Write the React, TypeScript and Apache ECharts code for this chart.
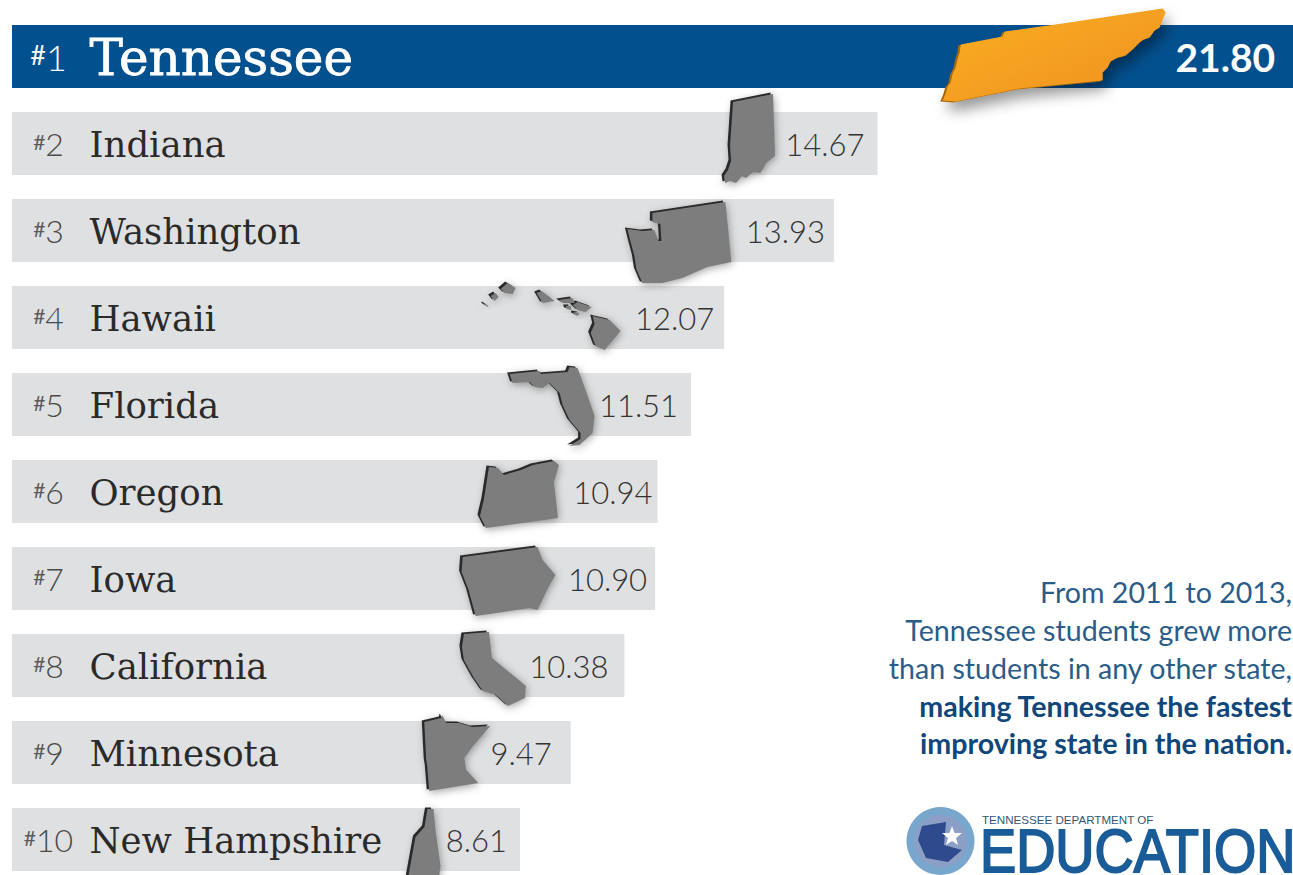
import React, { useEffect, useRef } from "react";
import * as echarts from "echarts";

const ranks = ["#1", "#2", "#3", "#4", "#5", "#6", "#7", "#8", "#9", "#10"];
const states = ["Tennessee", "Indiana", "Washington", "Hawaii", "Florida", "Oregon", "Iowa", "California", "Minnesota", "New Hampshire"];
const scores = [21.8, 14.67, 13.93, 12.07, 11.51, 10.94, 10.9, 10.38, 9.47, 8.61];

// State silhouettes: pixel offsets from the end of each bar, at the bar's mid-height.
const outlineTN = [[[-358,45],[-355,38],[-353,31],[-350,27],[-348,18],[-345,12],[-343,3],[-341,-3],[-340,-11],[-298,-19],[-296,-24],[-238,-32],[-138,-47],[-135,-43],[-138,-36],[-141,-28],[-146,-25],[-151,-18],[-157,-16],[-161,-13],[-168,-6],[-175,0],[-183,2],[-190,6],[-193,12],[-198,17],[-198,25],[-281,33],[-345,46]]];
const outlineIN = [[[-147,-43],[-107,-51],[-105,11],[-114,18],[-117,24],[-120,28],[-127,27],[-134,33],[-138,31],[-144,38],[-150,36],[-155,38],[-156,31],[-152,25],[-149,16],[-150,1]]];
const outlineWA = [[[-184,-19],[-111,-30],[-105,30],[-129,35],[-154,46],[-174,51],[-194,51],[-197,44],[-200,37],[-202,24],[-206,9],[-209,-3],[-194,-1],[-182,-2],[-178,9],[-175,9],[-176,-8],[-184,-10]]];
const outlineHI = [
  [[-134,-3],[-117,1],[-106,12],[-122,31],[-131,27],[-136,14],[-132,5]],
  [[-149,-17],[-135,-12],[-141,-7],[-149,-9],[-154,-14]],
  [[-168,-19],[-154,-21],[-152,-16],[-164,-16]],
  [[-161,-13],[-156,-13],[-155,-9],[-160,-10]],
  [[-153,-7],[-147,-6],[-149,-3],[-153,-5]],
  [[-190,-26],[-185,-28],[-172,-18],[-184,-16]],
  [[-226,-30],[-219,-36],[-211,-31],[-214,-25],[-222,-26]],
  [[-236,-23],[-231,-26],[-228,-22],[-232,-18]],
  [[-242,-16],[-238,-13],[-239,-12],[-243,-15]],
];
const outlineFL = [[[-184,-32],[-154,-35],[-153,-32],[-126,-34],[-124,-39],[-116,-38],[-108,-16],[-99,10],[-101,27],[-114,39],[-124,40],[-113,33],[-113,27],[-124,14],[-131,-1],[-134,-13],[-144,-23],[-151,-18],[-159,-19],[-164,-24],[-181,-23]]];
const outlineOR = [[[-171,-26],[-162,-25],[-156,-18],[-139,-23],[-127,-28],[-106,-32],[-101,-28],[-106,-11],[-102,25],[-174,35],[-180,23],[-176,6]]];
const outlineIA = [[[-195,-23],[-120,-33],[-115,-20],[-102,-5],[-108,5],[-113,15],[-120,30],[-128,28],[-182,36],[-189,10],[-196,-8]]];
const outlineCA = [[[-163,-33],[-138,-35],[-135,-9],[-101,19],[-102,31],[-119,39],[-131,28],[-144,24],[-153,11],[-163,-7],[-165,-20]]];
const outlineMN = [[[-149,-32],[-132,-36],[-131,-39],[-127,-31],[-114,-31],[-101,-27],[-83,-28],[-101,-7],[-109,4],[-107,16],[-95,29],[-144,37],[-146,12],[-147,6]]];
const outlineNH = [[[-95,-32],[-89,-32],[-87,-11],[-82,25],[-84,40],[-115,40],[-107,-4],[-98,-14]]];
const outlines = [outlineTN, outlineIN, outlineWA, outlineHI, outlineFL, outlineOR, outlineIA, outlineCA, outlineMN, outlineNH];

// Distance of each score label from its bar's right end.
const labelInsets = [23, 13, 9, 10, 13, 5, 8, 16, 19, 13];

const noteRegular = ["From 2011 to 2013,", "Tennessee students grew more", "than students in any other state,"];
const noteBold = ["making Tennessee the fastest", "improving state in the nation."];
const logoSmall = "TENNESSEE DEPARTMENT OF";
const logoBig = "EDUCATION";
const starPoints = [[952,826],[954.5,833],[962,833],[956,838],[958,845],[952,841],[946,845],[948,838],[942,833],[949.5,833]];

const BLUE = "#03508f";
const GRAY = "#dfe0e1";
const SLAB = "'DejaVu Serif', serif";
const SANS = "Lato, 'Open Sans', sans-serif";

export default function App() {
  const ref = useRef<HTMLDivElement>(null);
  useEffect(() => {
    const chart = echarts.init(ref.current!, undefined, { renderer: "svg" });
    const renderItem = (_p: any, api: any) => {
      const i = api.value(1) as number;
      const end = api.coord([api.value(0), i]);
      const start = api.coord([0, i]);
      const first = i === 0;
      const children: any[] = [];
      const edge = first ? "#a8690f" : "#2b2b2b";
      const fill = first
        ? new echarts.graphic.LinearGradient(0, 0, 1, 1, [
            { offset: 0, color: "#fbb022" },
            { offset: 1, color: "#ee8f20" },
          ])
        : "#7d7d7d";
      outlines[i].forEach((pts: number[][]) => {
        const abs = pts.map((p) => [end[0] + p[0], end[1] + p[1]]);
        children.push({
          type: "polygon",
          shape: { points: abs },
          style: { fill: edge, shadowBlur: first ? 14 : 8, shadowColor: "rgba(0,0,0,0.4)", shadowOffsetX: first ? 6 : 3, shadowOffsetY: first ? 8 : 3 },
        });
        children.push({
          type: "polygon",
          shape: { points: abs.map((p) => [p[0] + 2.5, p[1] + (first ? -1 : 1.5)]) },
          style: { fill },
        });
      });
      children.push({
        type: "text",
        style: {
          x: start[0] + 36.5,
          y: start[1],
          text: `{a|#}{b|${ranks[i].slice(1)}}`,
          align: "center",
          verticalAlign: "middle",
          rich: {
            a: { fontFamily: SANS, fontSize: first ? 27 : 21, fill: first ? "#ffffff" : "#5a5a5a", padding: [0, 0, 4, 0] },
            b: { fontFamily: SANS, fontSize: first ? 36 : 32, fontWeight: 300, fill: first ? "#ffffff" : "#4a4a4a" },
          },
        },
      });
      children.push({
        type: "text",
        style: {
          x: start[0] + 77.5,
          y: start[1] + 1,
          text: states[i],
          align: "left",
          verticalAlign: "middle",
          fontFamily: SLAB,
          fontSize: first ? 50 : 35.5,
          fill: first ? "#ffffff" : "#2a2a2a",
          stroke: first ? "#ffffff" : "transparent",
          lineWidth: first ? 0.8 : 0,
        },
      });
      return { type: "group", children };
    };
    chart.setOption({
      animation: false,
      backgroundColor: "#ffffff",
      grid: { left: 12, top: 13, width: 1286.2, height: 870, outerBoundsMode: "none" },
      xAxis: { type: "value", min: 0, max: 21.8, show: false },
      yAxis: { type: "category", inverse: true, data: states, show: false },
      series: [
        {
          type: "bar",
          barWidth: 63,
          silent: true,
          data: scores.map((v, i) => ({
            value: v,
            itemStyle: { color: i === 0 ? BLUE : GRAY },
            label: {
              show: true,
              position: "insideRight",
              distance: labelInsets[i],
              formatter: v.toFixed(2),
              fontFamily: SANS,
              fontSize: i === 0 ? 39 : 31,
              fontWeight: i === 0 ? 700 : 300,
              color: i === 0 ? "#ffffff" : "#333333",
            },
          })),
        },
        {
          type: "custom",
          silent: true,
          renderItem,
          encode: { x: 0, y: 1 },
          data: scores.map((v, i) => [v, i]),
          z: 5,
        },
      ],
      graphic: [
        ...noteRegular.map((t, i) => ({
          type: "text",
          style: { x: 1292, y: 592 + i * 37.8, text: t, align: "right", verticalAlign: "middle", fontFamily: SANS, fontSize: 28.6, fill: "#2a5c89" },
        })),
        ...noteBold.map((t, i) => ({
          type: "text",
          style: { x: 1292, y: 705.5 + i * 37.8, text: t, align: "right", verticalAlign: "middle", fontFamily: SANS, fontSize: 28.6, fontWeight: 700, fill: "#10467a" },
        })),
        { type: "circle", shape: { cx: 940.5, cy: 841, r: 34 }, style: { fill: "#79a6cc" } },
        { type: "circle", shape: { cx: 940.5, cy: 841, r: 26 }, style: { fill: "#8d9fc6" } },
        { type: "polygon", shape: { points: [[922,826],[946,822],[944,845],[962,850],[948,862],[926,858],[918,840]] }, style: { fill: "#2f4a8d" } },
        { type: "polygon", shape: { points: starPoints }, style: { fill: "#ffffff" } },
        { type: "text", style: { x: 982, y: 819, text: logoSmall, align: "left", verticalAlign: "middle", fontFamily: "'Liberation Sans', sans-serif", fontSize: 11.6, fill: "#33556f" } },
        { type: "text", x: 980, y: 850, scaleX: 0.875, style: { x: 0, y: 0, text: logoBig, align: "left", verticalAlign: "middle", fontFamily: "'Liberation Sans', sans-serif", fontSize: 62, fill: "#1a5c98", stroke: "#1a5c98", lineWidth: 2 } },
      ],
    });
    return () => chart.dispose();
  }, []);
  return <div ref={ref} style={{ position: "absolute", left: 0, top: 0, width: 1293, height: 875 }} />;
}
